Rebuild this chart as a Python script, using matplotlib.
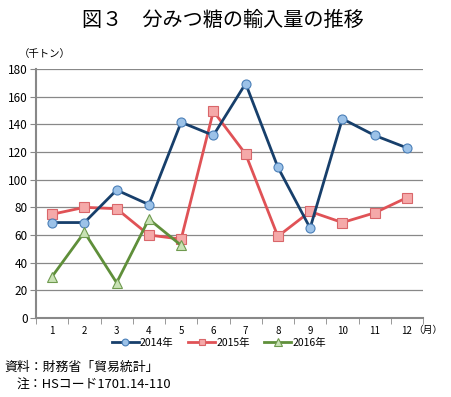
import matplotlib
matplotlib.use("Agg")
import matplotlib.pyplot as plt
import numpy as np

plt.rcParams['font.family'] = ['Noto Sans CJK JP', 'DejaVu Sans']

months = ['1', '2', '3', '4', '5', '6', '7', '8', '9', '10', '11', '12']
s2014 = [69, 69, 92.5, 82, 141.5, 132, 169.5, 109, 65, 144, 132, 123]
s2015 = [75, 80, 79, 60, 57, 149.5, 118.5, 59, 77, 69, 76, 87]
s2016 = [30, 62, 25.5, 71.5, 52.5]
labels = ['2014年', '2015年', '2016年']

fig = plt.figure(figsize=(4.52, 3.97), dpi=100)
ax = fig.add_axes([36/452, 1-318/397, (423-36)/452, (318-69)/397])

x = np.arange(1, 13)
l1, = ax.plot(x, s2014, color='#173f6b', lw=2, marker='o', ms=6.5,
              mfc='#9cc2e8', mec='#4a7fb8', mew=0.8, label=labels[0], zorder=4)
l2, = ax.plot(x, s2015, color='#e05256', lw=2, marker='s', ms=6.5,
              mfc='#f5a9a9', mec='#d9666a', mew=0.8, label=labels[1], zorder=3)
l3, = ax.plot(x[:len(s2016)], s2016, color='#5f8f3a', lw=2, marker='^', ms=7,
              mfc='#c9e2b5', mec='#6f9a4f', mew=0.8, label=labels[2], zorder=5)

ax.set_xlim(0.5, 12.5)
ax.set_ylim(0, 180)
ax.set_yticks(np.arange(0, 181, 20))
ax.yaxis.grid(True, color='#888888', lw=0.9)
ax.set_axisbelow(True)
ax.set_xticks(x)
ax.set_xticklabels(months)
ax.set_xticks(np.arange(0.5, 12.6, 1), minor=True)
ax.tick_params(axis='x', which='major', length=0, labelsize=7, pad=6)
ax.tick_params(axis='x', which='minor', length=4, color='#888888', direction='out')
ax.tick_params(axis='y', length=4, color='#888888', labelsize=8.5, pad=2)
for sp in ['top', 'right']:
    ax.spines[sp].set_visible(False)
ax.spines['left'].set_color('#888888')
ax.spines['left'].set_linewidth(1.5)
ax.spines['bottom'].set_color('#888888')
ax.spines['bottom'].set_linewidth(1.5)

fig.text(223/452, 1-20/397, '図３　分みつ糖の輸入量の推移', ha='center', va='center', fontsize=14.5)
fig.text(45/452, 1-54/397, '（千トン）', ha='center', va='center', fontsize=7.5)
fig.text(413/452, 1-330/397, '（月）', ha='left', va='center', fontsize=7)

fig.legend(handles=[l1, l2, l3], loc='center', bbox_to_anchor=(219/452, 1-343/397),
           ncol=3, frameon=False, fontsize=7.5, handlelength=2.6, columnspacing=1.4,
           handletextpad=0.1, markerscale=0.75)

fig.text(4/452, 1-367/397, '資料：財務省「貿易統計」', ha='left', va='center', fontsize=9.3)
fig.text(17/452, 1-385/397, '注：HSコード1701.14-110', ha='left', va='center', fontsize=9.3)

fig.savefig('out.png', dpi=100)
